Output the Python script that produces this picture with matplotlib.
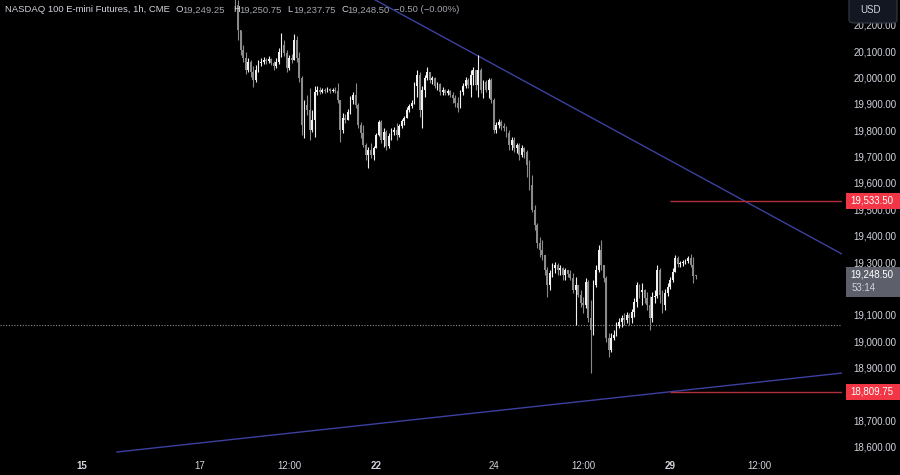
import matplotlib
matplotlib.use("Agg")
import matplotlib.pyplot as plt
import matplotlib.patches as patches
from matplotlib.transforms import blended_transform_factory
import numpy as np

plt.rcParams['font.family'] = ['Liberation Sans', 'DejaVu Sans']

# hourly bars, bar 0 = Mon 15 00:00 (closed hours left out, like the chart)
first_bar = 60
first_open = 20369
closes = [20274, 20180, 20104, 20073, 20028, 20058, 20020, 19990, 20028, 20054,
          20058, 20066, 20062, 20070, 20054, 20043, 20058, 20096, 20123, 20092,
          20035, 20073, 20066, 20142, 20073, 19998, 19820, 19895, 19876, 19801,
          19838, 19945, 19952, 19945, 19952, 19948, 19956, 19948, 19952, 19948,
          19914, 19801, 19846, 19838, 19869, 19914, 19933, 19895, 19820, 19789,
          19744, 19706, 19725, 19706, 19732, 19782, 19831, 19763, 19793, 19740,
          19778, 19793, 19801, 19782, 19816, 19835, 19846, 19876, 19891, 19903,
          19967, 20009, 19876, 19952, 19998, 20020, 19990, 19998, 19967, 19975,
          19945, 19952, 19941, 19948, 19933, 19922, 19903, 19884, 19945, 19967,
          19990, 19971, 20009, 20028, 19971, 20028, 19952, 19982, 19952, 19990,
          19914, 19801, 19820, 19831, 19816, 19808, 19789, 19744, 19763, 19732,
          19744, 19706, 19732, 19717, 19668, 19592, 19498, 19441, 19373, 19346,
          19327, 19270, 19213, 19259, 19278, 19289, 19270, 19278, 19251, 19270,
          19255, 19240, 19195, 19213, 19176, 19145, 19138, 19225, 19088, 19043,
          19213, 19270, 19346, 19289, 19240, 19013, 18967, 19013, 19024, 19058,
          19073, 19088, 19081, 19100, 19088, 19111, 19149, 19213, 19187, 19195,
          19164, 19138, 19088, 19168, 19172, 19270, 19176, 19138, 19183, 19206,
          19232, 19263, 19316, 19293, 19297, 19297, 19304, 19316, 19289, 19249.25,
          19248.50]
highs = [20388, 20293, 20161, 20123, 20096, 20073, 20066, 20043, 20047, 20066,
         20073, 20077, 20073, 20081, 20073, 20062, 20073, 20111, 20168, 20142,
         20104, 20085, 20089, 20164, 20157, 20096, 20005, 19914, 19933, 19960,
         19876, 19967, 19967, 19963, 19960, 19960, 19963, 19960, 19960, 19963,
         19979, 19914, 19865, 19861, 19880, 19929, 19945, 19979, 19903, 19831,
         19820, 19751, 19736, 19751, 19740, 19789, 19838, 19838, 19808, 19801,
         19789, 19808, 19812, 19827, 19823, 19842, 19854, 19888, 19899, 19914,
         19982, 20028, 20020, 19967, 20009, 20039, 20013, 20005, 20001, 19982,
         19979, 19963, 19956, 19956, 19952, 19945, 19933, 19926, 19952, 19979,
         20001, 19998, 20028, 20039, 20028, 20085, 20035, 19990, 19990, 19998,
         19998, 19922, 19831, 19842, 19838, 19827, 19816, 19801, 19774, 19774,
         19751, 19751, 19744, 19736, 19725, 19687, 19630, 19517, 19448, 19395,
         19384, 19327, 19282, 19270, 19297, 19301, 19297, 19289, 19282, 19278,
         19270, 19270, 19259, 19244, 19213, 19195, 19168, 19240, 19232, 19157,
         19232, 19289, 19365, 19384, 19289, 19248, 19032, 19032, 19043, 19073,
         19088, 19100, 19107, 19111, 19107, 19123, 19164, 19225, 19217, 19221,
         19200, 19187, 19172, 19187, 19195, 19289, 19278, 19195, 19198, 19221,
         19244, 19278, 19327, 19323, 19304, 19308, 19312, 19323, 19331, 19320,
         19250.75]
lows = [20255, 20142, 20085, 20058, 20013, 20020, 20001, 19963, 19982, 20020,
        20043, 20051, 20051, 20054, 20047, 20028, 20035, 20051, 20077, 20081,
        20020, 20028, 20054, 20066, 20058, 19982, 19782, 19770, 19857, 19763,
        19793, 19774, 19933, 19937, 19941, 19941, 19945, 19941, 19945, 19941,
        19903, 19755, 19789, 19827, 19846, 19861, 19899, 19884, 19808, 19770,
        19736, 19687, 19657, 19695, 19687, 19732, 19778, 19751, 19736, 19725,
        19732, 19763, 19782, 19763, 19774, 19808, 19820, 19846, 19869, 19884,
        19899, 19926, 19850, 19808, 19926, 19990, 19979, 19975, 19960, 19952,
        19933, 19933, 19933, 19933, 19926, 19903, 19888, 19869, 19884, 19933,
        19960, 19960, 19926, 19971, 19952, 19926, 19941, 19922, 19945, 19922,
        19903, 19789, 19789, 19808, 19801, 19797, 19774, 19725, 19725, 19717,
        19713, 19687, 19698, 19695, 19623, 19573, 19490, 19422, 19354, 19320,
        19308, 19251, 19168, 19195, 19244, 19259, 19251, 19251, 19232, 19232,
        19244, 19232, 19183, 19062, 19168, 19130, 19107, 19126, 19073, 18880,
        19024, 19206, 19263, 19270, 19225, 18998, 18941, 18960, 19005, 19020,
        19051, 19054, 19062, 19070, 19062, 19070, 19092, 19130, 19164, 19138,
        19145, 19119, 19043, 19073, 19145, 19164, 19145, 19107, 19119, 19172,
        19198, 19225, 19263, 19282, 19282, 19285, 19293, 19297, 19282, 19221,
        19237.75]

price_ticks = list(range(18600, 20201, 100))
hidden_ticks = [19200, 18800]  # sit under the price labels
time_ticks = [0, 46, 81, 115, 161, 196, 230, 265]
time_labels = ["15", "17", "12:00", "22", "24", "12:00", "29", "12:00"]
bold_labels = ["15", "22", "29"]

# drawings on the chart
upper_line = ([110, 297.2], [20318, 19331])
lower_line = ([13.7, 297.2], [18581, 18880])
levels = [19533.50, 18809.75]
level_start = 230
prev_close = 19062
last_price = 19248.50
countdown = "53:14"

title = "NASDAQ 100 E-mini Futures, 1h, CME"
ohlc = [("O", "19,249.25"), ("H", "19,250.75"), ("L", "19,237.75"), ("C", "19,248.50")]
change = "\u22120.50 (\u22120.00%)"

BG = "#000000"
TXT = "#d1d4dc"
UP = "#f0f0f0"
DOWN = "#8a8a8a"
RED = "#f23645"

W, H = 900, 475
fig = plt.figure(figsize=(9, 4.75), dpi=100, facecolor=BG)
ax = fig.add_axes([0, 22 / H, 842 / W, 453 / H])
ax.set_facecolor(BG)
ax.set_xlim(-32.07, 297.22)
ax.set_ylim(18577.2, 20293.2)

# candles
idx = np.arange(first_bar, first_bar + len(closes))
c = np.array(closes, dtype=float)
o = np.array([first_open] + closes[:-1], dtype=float)
hi = np.maximum(np.array(highs, dtype=float), np.maximum(o, c))
lo = np.minimum(np.array(lows, dtype=float), np.minimum(o, c))
cols = np.where(c >= o, UP, DOWN)
ax.vlines(idx, lo, hi, colors=cols, linewidth=0.8, zorder=3)
ax.bar(idx, np.maximum(np.abs(c - o), 3), bottom=np.minimum(o, c), width=0.7,
       color=cols, linewidth=0, zorder=4)

# trend lines, levels, previous close
ax.plot(*upper_line, color="#3d40a0", lw=1, zorder=2)
ax.plot(*lower_line, color="#3d40a0", lw=1, zorder=2)
ax.hlines(levels, level_start, 297.22, color="#b3303a", lw=1, zorder=2)
ax.axhline(prev_close, color="#8a8d96", lw=0.8, ls=(0, (1, 1.5)), zorder=1)

# axes
for s in ax.spines.values():
    s.set_visible(False)
ax.yaxis.tick_right()
ax.set_yticks(price_ticks)
ax.set_yticklabels(["" if p in hidden_ticks else f"{p:,.2f}" for p in price_ticks])
ax.tick_params(axis="y", length=0, pad=8, labelsize=7, labelcolor=TXT)
ax.set_xticks(time_ticks)
ax.set_xticklabels(time_labels)
ax.tick_params(axis="x", length=0, pad=6, labelsize=7, labelcolor=TXT)
for lab in ax.get_xticklabels():
    if lab.get_text() in bold_labels:
        lab.set_fontweight("bold")

# price scale labels
tr = blended_transform_factory(fig.transFigure, ax.transData)
px = 1716 / 453  # price per pixel
for lv in levels:
    fig.add_artist(patches.Rectangle((846 / W, lv - 8 * px), 54 / W, 16 * px,
                                     transform=tr, facecolor=RED, edgecolor="none", zorder=10))
    fig.text(872 / W, lv, f"{lv:,.2f}", transform=tr, color="white", fontsize=7,
             ha="center", va="center", zorder=11)
fig.add_artist(patches.Rectangle((846 / W, last_price - 21 * px), 54 / W, 30 * px,
                                 transform=tr, facecolor="#5d606b", edgecolor="none", zorder=10))
fig.text(872 / W, last_price + 1 * px, f"{last_price:,.2f}", transform=tr, color="white",
         fontsize=7, ha="center", va="center", zorder=11)
fig.text(852 / W, last_price - 12 * px, countdown, transform=tr, color=TXT,
         fontsize=7, ha="left", va="center", zorder=11)

fig.add_artist(patches.FancyBboxPatch((849 / W, 1 - 23 / H), 48 / W, 26 / H,
                                      boxstyle="round,pad=0,rounding_size=0.006",
                                      transform=fig.transFigure, facecolor="#131722",
                                      edgecolor="#363a45", lw=0.8, zorder=10))
fig.text(860 / W, 1 - 10 / H, "USD", color=TXT, fontsize=7, va="center", zorder=11)

# header
fig.text(5 / W, 1 - 10 / H, title, color=TXT, fontsize=6.8, va="center")
xs = [176, 233, 287, 341]
for x, (k, v) in zip(xs, ohlc):
    fig.text(x / W, 1 - 10 / H, k, color=TXT, fontsize=6.8, va="center")
    fig.text((x + 6) / W, 1 - 10 / H, v, color="#a3a6af", fontsize=6.8, va="center")
fig.text(394 / W, 1 - 10 / H, change, color="#a3a6af", fontsize=6.8, va="center")

fig.savefig("out.png", dpi=100, facecolor=BG)
